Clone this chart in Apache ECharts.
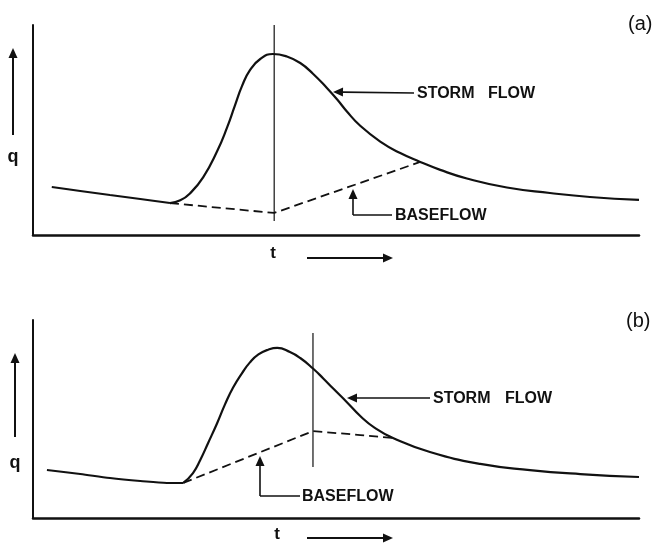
<!DOCTYPE html>
<html><head><meta charset="utf-8">
<script src="https://cdn.jsdelivr.net/npm/echarts@6/dist/echarts.min.js"></script>
<style>html,body{margin:0;padding:0;background:#fff}#c{width:655px;height:548px}</style>
</head><body><div id="c"></div>
<script>
// ---------- Panel (a) ----------
const leadA_t  = [3.1, 7.8, 12.7, 17.7, 22.6];
const leadA_q  = [22.9, 21.0, 19.0, 17.1, 15.2];
const stormA_t = [22.6, 24.3, 25.9, 28.1, 30.4, 32.0, 33.3, 34.5, 35.8, 37.5, 39.6, 41.9, 44.1, 46.2, 48.5, 50.2, 51.8, 54.0, 57.3, 60.6, 63.9, 67.2, 71.6, 78.2, 85.3, 91.9, 100];
const stormA_q = [15.2, 16.5, 19.8, 27.6, 40.0, 51.0, 61.5, 71.0, 78.5, 83.8, 86.2, 85.0, 81.9, 76.8, 70.0, 64.5, 58.8, 52.0, 44.5, 39.0, 34.8, 31.0, 26.9, 22.6, 20.0, 18.1, 16.7];
const baseA_t  = [22.6, 39.8, 63.9];
const baseA_q  = [15.2, 10.5, 34.8];
const peakA_t  = [39.8, 39.8];
const peakA_q  = [6.7, 100];

// ---------- Panel (b) ----------
const leadB_t  = [2.3, 7.8, 12.7, 17.7, 22.1, 24.8];
const leadB_q  = [24.2, 22.2, 20.2, 18.7, 17.7, 17.7];
const stormB_t = [24.8, 26.4, 27.6, 28.9, 30.4, 31.7, 33.0, 34.5, 35.8, 37.2, 38.8, 40.3, 42.4, 44.1, 46.2, 47.9, 49.5, 51.8, 54.0, 56.4, 59.4, 65.5, 73.8, 82.0, 90.3, 100];
const stormB_q = [17.7, 22.7, 29.3, 37.9, 48.0, 57.5, 65.8, 73.2, 78.6, 82.6, 85.0, 85.9, 83.8, 80.8, 75.5, 70.5, 65.5, 58.5, 51.5, 45.5, 40.4, 33.3, 27.3, 24.2, 22.2, 20.7];
const baseB_t  = [24.8, 46.2, 54.0, 59.4];
const baseB_q  = [17.7, 43.9, 41.9, 40.4];
const peakB_t  = [46.2, 46.2];
const peakB_q  = [25.8, 93.4];

const labels = { storm: ['STORM', 'FLOW'], base: 'BASEFLOW', q: 'q', t: 't', a: '(a)', b: '(b)' };

const zip = (a, b) => a.map((v, i) => [v, b[i]]);
const INK = '#111';
const FONT = '"Liberation Sans", Arial, sans-serif';

function solid(idx, t, q, w, smooth) {
  return { type: 'line', xAxisIndex: idx, yAxisIndex: idx, data: zip(t, q), showSymbol: false,
    smooth: smooth, lineStyle: { color: INK, width: w }, silent: true, animation: false, clip: false };
}
function dashed(idx, t, q) {
  return { type: 'line', xAxisIndex: idx, yAxisIndex: idx, data: zip(t, q), showSymbol: false,
    lineStyle: { color: INK, width: 1.8, type: [9, 5] }, silent: true, animation: false };
}
const axisCommon = { min: 0, max: 100, axisTick: { show: false }, axisLabel: { show: false }, splitLine: { show: false } };

// annotation helpers (pixel positions for labels/arrows)
function arrow(x1, y1, x2, y2, w) {
  const dx = x2 - x1, dy = y2 - y1, L = Math.hypot(dx, dy), ux = dx / L, uy = dy / L;
  const hl = 10, hw = 4.5;
  const bx = x2 - ux * hl, by = y2 - uy * hl;
  return [
    { type: 'line', shape: { x1, y1, x2: bx, y2: by }, style: { stroke: INK, lineWidth: w || 1.6 } },
    { type: 'polygon', shape: { points: [[x2, y2], [bx - uy * hw, by + ux * hw], [bx + uy * hw, by - ux * hw]] }, style: { fill: INK } }
  ];
}
function txt(x, y, s, size, weight, align) {
  return { type: 'text', x, y, style: { text: s, font: (weight || 'bold') + ' ' + size + 'px ' + FONT, fill: INK, textAlign: align || 'left', textVerticalAlign: 'middle' } };
}
function seg(x1, y1, x2, y2, w) {
  return { type: 'line', shape: { x1, y1, x2, y2 }, style: { stroke: INK, lineWidth: w || 1.6 } };
}

const graphics = [].concat(
  // panel a
  arrow(13, 135, 13, 48, 2), [txt(13, 157, labels.q, 18, 'bold', 'center')],
  [txt(273, 253, labels.t, 17, 'bold', 'center')], arrow(307, 258, 393, 258, 2),
  [txt(628, 24, labels.a, 20, 'normal')],
  arrow(414, 93, 333, 92), [txt(417, 94, labels.storm[0], 16), txt(488, 94, labels.storm[1], 16)],
  [seg(392, 215, 353, 215)], arrow(353, 215, 353, 189), [txt(395, 216, labels.base, 16)],
  // panel b
  arrow(15, 437, 15, 353, 2), [txt(15, 463, labels.q, 18, 'bold', 'center')],
  [txt(277, 534, labels.t, 17, 'bold', 'center')], arrow(307, 538, 393, 538, 2),
  [txt(626, 321, labels.b, 20, 'normal')],
  arrow(430, 398, 347, 398), [txt(433, 399, labels.storm[0], 16), txt(505, 399, labels.storm[1], 16)],
  [seg(300, 496, 260, 496)], arrow(260, 496, 260, 456), [txt(302, 497, labels.base, 16)]
);

const chart = echarts.init(document.getElementById('c'), null, { renderer: 'canvas' });
chart.setOption({
  animation: false,
  backgroundColor: '#fff',
  grid: [
    { left: 33, top: 25, width: 606, height: 210 },
    { left: 33, top: 320, width: 606, height: 198 }
  ],
  xAxis: [
    Object.assign({ type: 'value', gridIndex: 0, axisLine: { onZero: false, lineStyle: { color: INK, width: 2.5 } } }, axisCommon),
    Object.assign({ type: 'value', gridIndex: 1, axisLine: { onZero: false, lineStyle: { color: INK, width: 2.5 } } }, axisCommon)
  ],
  yAxis: [
    Object.assign({ type: 'value', gridIndex: 0, axisLine: { show: true, onZero: false, lineStyle: { color: INK, width: 2 } } }, axisCommon),
    Object.assign({ type: 'value', gridIndex: 1, axisLine: { show: true, onZero: false, lineStyle: { color: INK, width: 2 } } }, axisCommon)
  ],
  series: [
    solid(0, leadA_t, leadA_q, 2, 0.3),
    solid(0, stormA_t, stormA_q, 2.2, 0.5),
    dashed(0, baseA_t, baseA_q),
    solid(0, peakA_t, peakA_q, 1.2, false),
    solid(1, leadB_t, leadB_q, 2, 0.3),
    solid(1, stormB_t, stormB_q, 2.2, 0.5),
    dashed(1, baseB_t, baseB_q),
    solid(1, peakB_t, peakB_q, 1.2, false)
  ],
  graphic: graphics
});
</script>
</body></html>
